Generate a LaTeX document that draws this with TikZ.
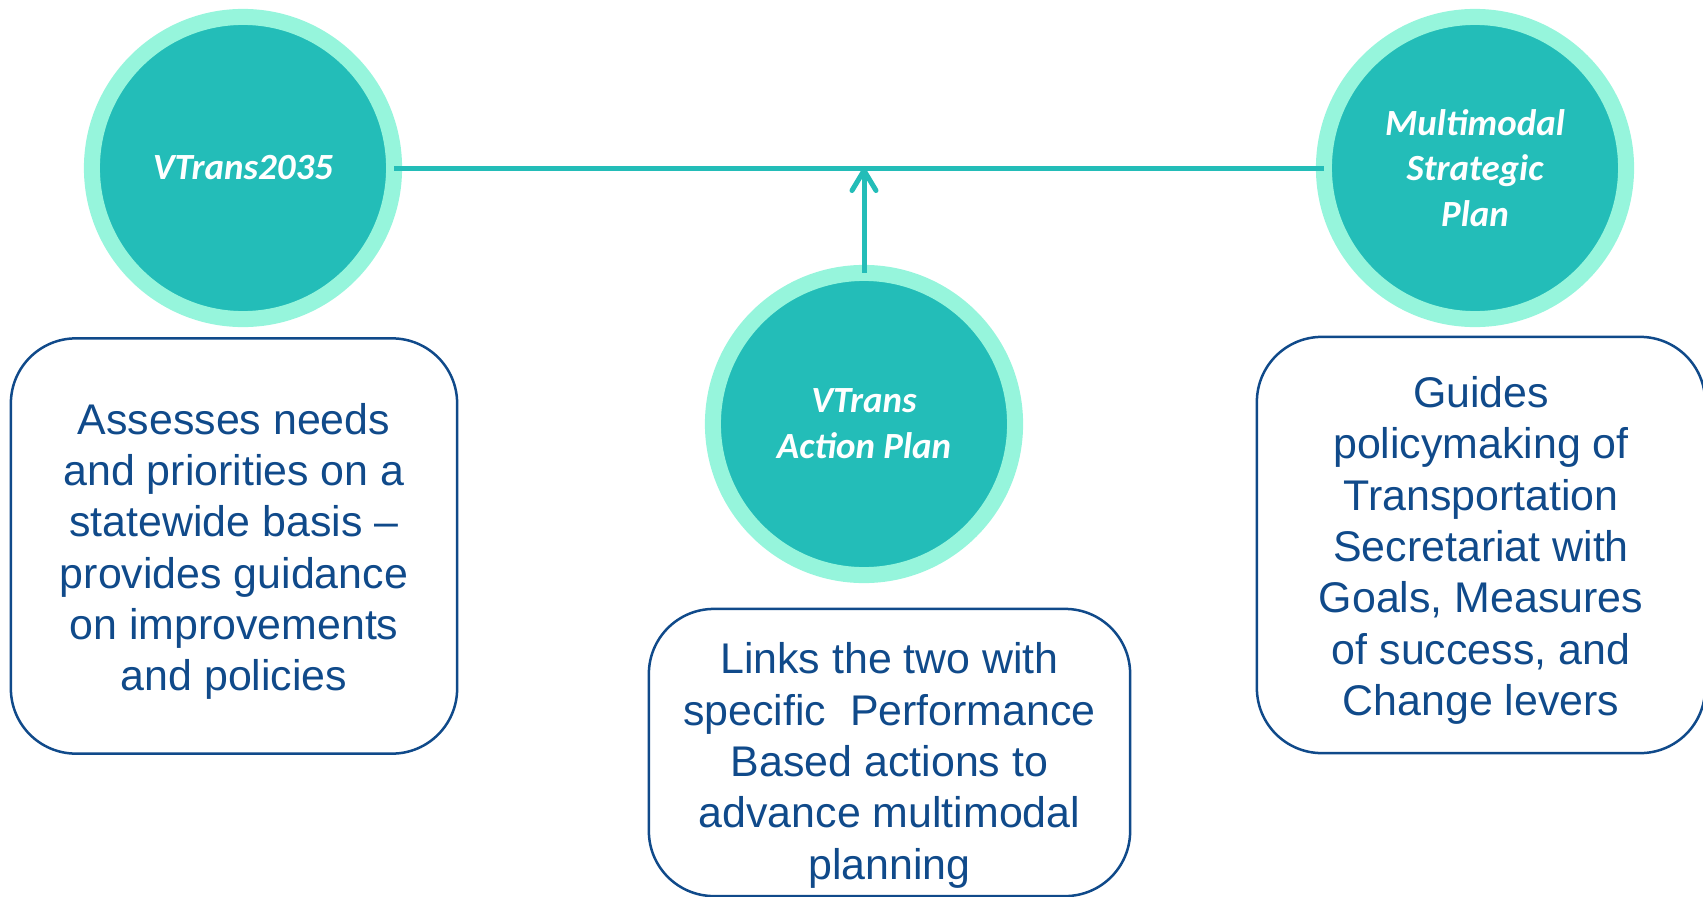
\documentclass[tikz,border=0pt]{standalone}
\usepackage{fontspec}
\setmainfont{Liberation Sans}
\newfontfamily\calibri{Carlito}
\usepackage{tikz}
\usetikzlibrary{arrows.meta}
\definecolor{teal1}{RGB}{35,189,184}
\definecolor{mint}{RGB}{150,245,220}
\definecolor{navy}{RGB}{16,74,138}
\newcommand{\notetext}[3][0.055cm]{\raisebox{-#1}[\height][\depth]{\parbox{#2}{\centering #3}}}

\begin{document}
\begin{tikzpicture}
	[x=0.01cm,y=-0.01cm,
	 plan/.style={circle,fill=teal1,draw=mint,line width=0.16cm,minimum size=3.02cm,
	   inner sep=0pt,outer sep=0pt,text=white,align=center,
	   font=\calibri\bfseries\itshape\fontsize{10.5}{13}\selectfont},
	 note/.style={rectangle,rounded corners=0.65cm,draw=navy,line width=0.025cm,
	   text=navy,inner sep=0pt,font=\fontsize{12.2}{14.6}\selectfont},
	 link/.style={teal1,line width=0.05cm}]
\useasboundingbox (0,0) rectangle (1703,897);
% plans
\node[plan] (v2035) at (243,168) {VTrans2035};
\node[plan] (msp) at (1475,168) {Multimodal\\Strategic\\Plan};
\node[plan] (ap) at (864,424) {VTrans\\Action Plan};
% descriptions
\node[note,minimum width=4.46cm,minimum height=4.15cm] (v2035d) at (234,546)
  {\notetext{4.3cm}{Assesses needs\\and priorities on a\\statewide basis --\\provides guidance\\on improvements\\and policies}};
\node[note,minimum width=4.48cm,minimum height=4.16cm] (mspd) at (1481,545)
  {\notetext{4.3cm}{Guides\\policymaking of\\Transportation\\Secretariat with\\Goals, Measures\\of success, and\\Change levers}};
\node[note,minimum width=4.81cm,minimum height=2.87cm] (apd) at (889.5,752.5)
  {\notetext[0.13cm]{4.6cm}{Links the two with\\specific\ \ Performance\\Based actions to\\advance multimodal\\planning}};
% links
\draw[link] (v2035) -- (msp);
\draw[link,-{Straight Barb[length=0.2cm,width=0.24cm,round]}] (ap) -- (ap |- v2035.center);
\end{tikzpicture}
\end{document}
